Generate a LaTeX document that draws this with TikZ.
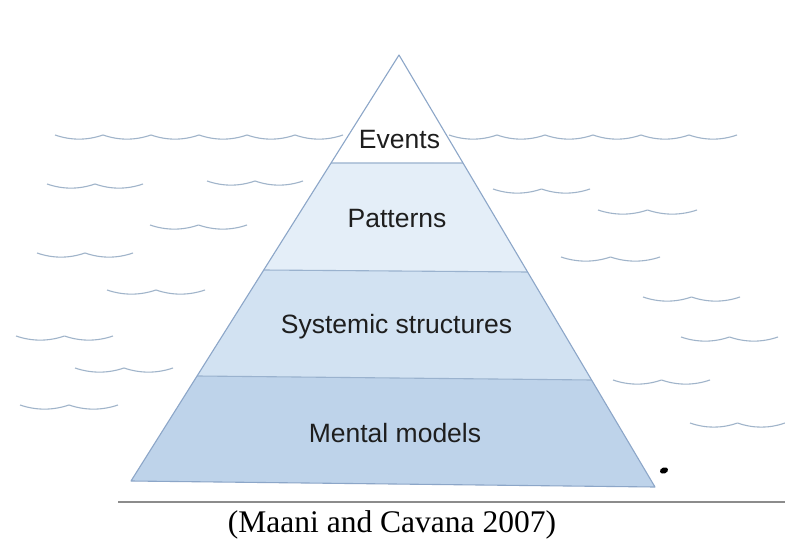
\documentclass[tikz,border=0pt]{standalone}
\usepackage{fontspec}
\setmainfont{Liberation Serif}
\newfontfamily\arialf{Liberation Sans}
\usetikzlibrary{calc}
\definecolor{edgeblue}{HTML}{8CA6C8}
\definecolor{divblue}{HTML}{9AB2CE}
\definecolor{wavecol}{HTML}{A0B4CA}
\definecolor{patfill}{HTML}{E4EEF8}
\definecolor{sysfill}{HTML}{D2E2F2}
\definecolor{menfill}{HTML}{BED3EA}
\definecolor{labcol}{HTML}{1E1E1E}
\tikzset{
  wave/.style={draw=wavecol, line width=1.1pt},
  layerlabel/.style={anchor=base, inner sep=0pt, text=labcol, font=\arialf\fontsize{26.5}{30}\selectfont},
  caption/.style={anchor=base, inner sep=0pt, font=\fontsize{31.5}{35}\selectfont},
  edgeline/.style={draw=edgeblue, line width=1.1pt, line join=round},
  divline/.style={draw=divblue, line width=1.1pt}
}
\newcommand\wavyrow[4]{% x0, y, segments, width
  \foreach \k in {1,...,#3}{
    \draw[wave] ({#1+(\k-1)*#4},#2) .. controls +({#4/3},5.5) and +({-#4/3},5.5) .. ({#1+\k*#4},#2);
  }}
\begin{document}
\begin{tikzpicture}[x=1pt,y=-1pt]
\useasboundingbox (0,0) rectangle (785,541);
\fill[white] (0,0) rectangle (785,541);
% waves
\begin{scope}
\clip (0,0) rectangle (785,541);
\wavyrow{55}{135}{6}{48}
\wavyrow{449}{135}{6}{48}
\wavyrow{47}{184}{2}{48}
\wavyrow{207}{181}{2}{48}
\wavyrow{493}{189}{2}{48.5}
\wavyrow{598}{210}{2}{49.5}
\wavyrow{150}{225}{2}{48.5}
\wavyrow{37}{253}{2}{48}
\wavyrow{561}{257}{2}{49.5}
\wavyrow{107}{290}{2}{49}
\wavyrow{643}{297}{2}{48.5}
\wavyrow{16}{336}{2}{48.5}
\wavyrow{681}{337}{2}{48.5}
\wavyrow{75}{368}{2}{49}
\wavyrow{613}{380}{2}{48.5}
\wavyrow{20}{405}{2}{49}
\wavyrow{690}{423}{2}{47.5}
\end{scope}
% pyramid
\coordinate (A) at (399,55);
\coordinate (BL) at (131,481);
\coordinate (BR) at (655,487);
\coordinate (L1) at ($(A)!0.2535!(BL)$);
\coordinate (R1) at ($(A)!0.25!(BR)$);
\coordinate (L2) at ($(A)!0.5047!(BL)$);
\coordinate (R2) at ($(A)!0.5023!(BR)$);
\coordinate (L3) at ($(A)!0.7535!(BL)$);
\coordinate (R3) at ($(A)!0.7523!(BR)$);
\fill[white] (A) -- (R1) -- (L1) -- cycle;
\fill[patfill] (L1) -- (R1) -- (R2) -- (L2) -- cycle;
\fill[sysfill] (L2) -- (R2) -- (R3) -- (L3) -- cycle;
\fill[menfill] (L3) -- (R3) -- (BR) -- (BL) -- cycle;
\draw[divline] (L1) -- (R1);
\draw[divline] (L2) -- (R2);
\draw[divline] (L3) -- (R3);
\draw[edgeline] (A) -- (BR) -- (BL) -- cycle;
% labels
\node[layerlabel] (ev) at (399.5,148) {Events};
\node[layerlabel] (pa) at (397,227) {Patterns};
\node[layerlabel] (sy) at (396.5,333) {Systemic structures};
\node[layerlabel] (me) at (395,442) {Mental models};
% blot
\fill[black] (664,470.5) ellipse [x radius=4.2, y radius=3, rotate=20];
% rule and caption
\coordinate (ruleL) at (118,502);
\coordinate (ruleR) at (785,502);
\draw[draw=gray!90, line width=1.3pt] (ruleL) -- (ruleR);
\node[caption] (cap) at (392,532) {(Maani and Cavana 2007)};
\end{tikzpicture}
\end{document}
